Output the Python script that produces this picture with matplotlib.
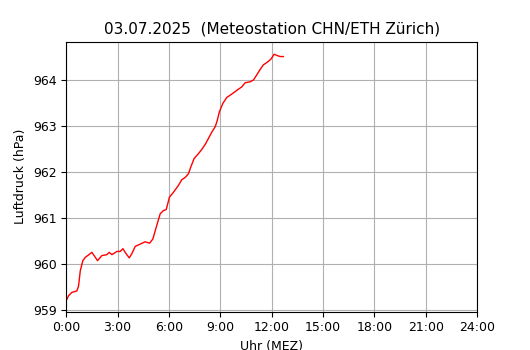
import numpy as np
import matplotlib
matplotlib.use("Agg")
import matplotlib.pyplot as plt

# Stunden seit Mitternacht
stunden = [0.04, 0.14, 0.33, 0.62, 0.72, 0.82, 0.97, 1.11, 1.5, 1.83, 2.08, 2.37, 2.51,
           2.67, 2.96, 3.15, 3.31, 3.48, 3.68, 3.83, 4.03, 4.32, 4.61, 4.87, 5.06, 5.26,
           5.49, 5.68, 5.84, 6.03, 6.27, 6.56, 6.75, 6.95, 7.14, 7.28, 7.47, 7.73, 7.92,
           8.12, 8.31, 8.51, 8.7, 8.8, 8.95, 9.15, 9.38, 9.58, 9.77, 10.06, 10.26, 10.45,
           10.74, 10.94, 11.13, 11.33, 11.52, 11.72, 11.95, 12.15, 12.34, 12.5, 12.69]
# Luftdruck in hPa
druck = [959.23, 959.31, 959.38, 959.41, 959.52, 959.85, 960.07, 960.14, 960.25, 960.07,
         960.18, 960.2, 960.25, 960.2, 960.27, 960.27, 960.33, 960.23, 960.13, 960.22,
         960.38, 960.43, 960.48, 960.45, 960.54, 960.8, 961.09, 961.16, 961.18, 961.45,
         961.56, 961.71, 961.83, 961.88, 961.96, 962.11, 962.29, 962.40, 962.49, 962.6,
         962.73, 962.87, 962.98, 963.09, 963.31, 963.49, 963.62, 963.67, 963.72, 963.80,
         963.85, 963.94, 963.96, 964.0, 964.11, 964.23, 964.33, 964.38, 964.45, 964.56,
         964.53, 964.51, 964.51]

ticks = np.arange(0, 25, 3)
ticklabels = ["%d:00" % t for t in ticks]

plt.rcParams["font.size"] = 9

fig, ax = plt.subplots(figsize=(5.3, 3.5), dpi=100)
ax.plot(stunden, druck, color="red", linewidth=1)
ax.set_xlim(0, 24)
ax.set_xticks(ticks)
ax.set_xticklabels(ticklabels)
ax.grid(True)
ax.set_title("03.07.2025  (Meteostation CHN/ETH Zürich)", fontsize=11)
ax.set_xlabel("Uhr (MEZ)")
ax.set_ylabel("Luftdruck (hPa)")
fig.savefig("out.png")
